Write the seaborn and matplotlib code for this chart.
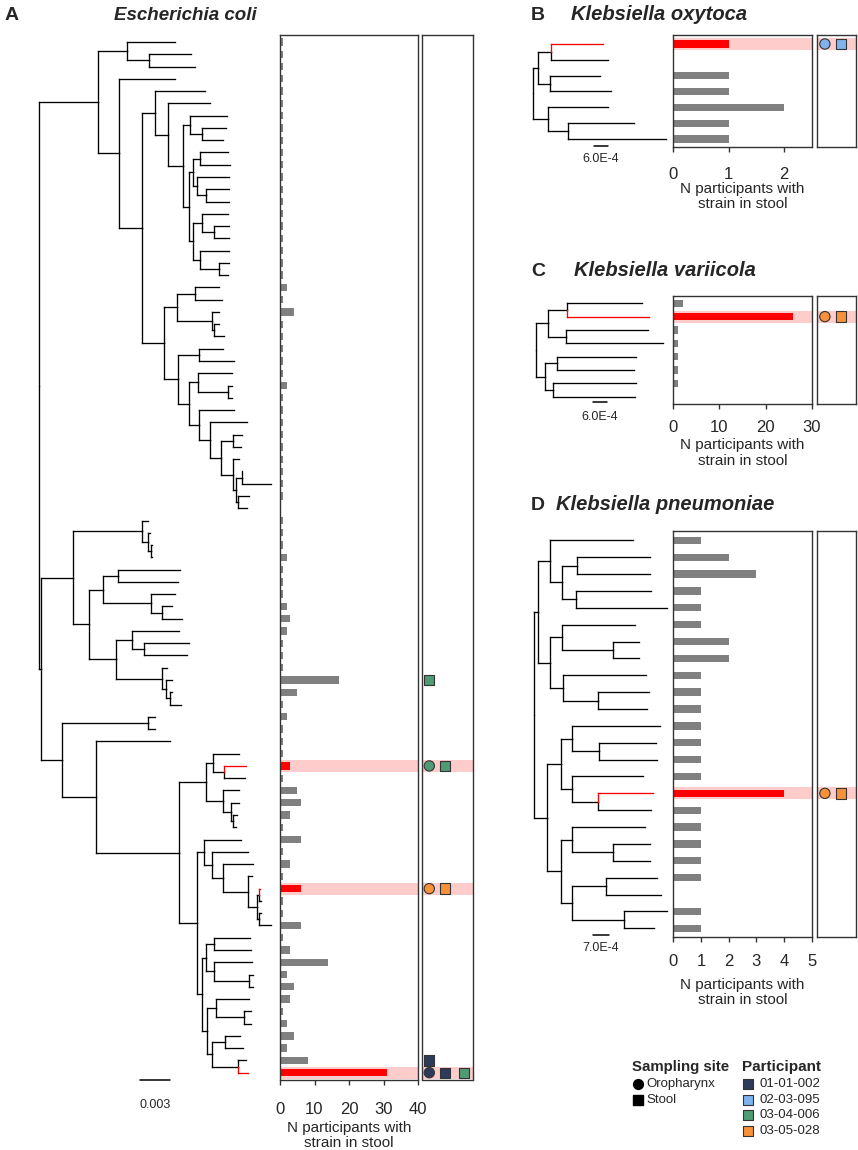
import matplotlib
matplotlib.use("Agg")
import matplotlib.pyplot as plt
import numpy as np
import pandas as pd
import seaborn as sns
from matplotlib.collections import LineCollection

W, H = 858, 1150

# ---------------- data ----------------
# E. coli tree (branch lengths in 1e-4 subst/site), built from clades
EC_N570 = "(E6:36.7,(E7:24.3,E8:21.6):11.7):7.3"
EC_N578 = "((E9:28.3,E10:30):7.3,(E11:32.6,(E12:23.6,E13:23.6):9.0):4.0):3.4"
EC_N578B = "((E14:26,(E15:15,E16:15):12.6):9.0,(E17:29.3,(E18:10.3,E19:9.3):19):7.3):3.4"
EC_N466 = "(E4:49.7,(E5:41.7,(" + EC_N570 + ",(" + EC_N578 + "," + EC_N578B + "):6.6):14.4):13.0):13.0"
EC_N530 = "((E20:24,E21:26.7):18.3,(E22:7.3,(E23:4.7,E24:9.7):2.6):35):12.4"
EC_N595 = "(E27:33.4,(E28:3.4,E29:3.4):30):9.3"
EC_N597 = ("(E30:35,(E31:37.3,((E32:8.4,E33:7.4):12.6,(E34:6.6,((E35:0.6,E36:29):5.7,"
           "(E37:11,E38:9):2.3):3.3):12):10.7):11):10")
EC_N533 = "((E25:23.4,E26:34.7):21.6,(" + EC_N595 + "," + EC_N597 + "):11.3):13.4"
EC_N493 = "(" + EC_N530 + "," + EC_N533 + "):22.0"
EC_A = "((E0:48.3,(E1:42,E2:46):22.3):28.4,(E3:55.7,(" + EC_N466 + "," + EC_N493 + "):23.0):21.0):59.0"
EC_N425 = "(E39:6.6,(E40:2.3,(E41:1.3,E42:1.0):3):6):69"
EC_N310 = "((E43:61.7,E44:60):15,(E45:24.3,(E46:10,E47:19.7):11.6):47.4):14"
EC_N348 = "((E48:47.6,(E49:45.3,E50:43.3):12.3):15.7,(E51:4.4,(E52:6.3,(E53:1.7,E54:11):4):3.7):46.3):26.7"
EC_C = "(" + EC_N425 + ",(" + EC_N310 + "," + EC_N348 + "):16.6):31.7"
EC_N618 = "((E58:25.4,(E59:21.7,E60:20.7):11):7.3,(E61:16,(E62:8.6,(E63:3.4,E64:2.4):2.6):7.4):17.3):27"
EC_N612 = ("(E65:37,(E66:36.6,(E67:30,(E68:4.6,((E69:0.7,E70:1.4):2.6,(E71:1.4,E72:11.4):2.6):9)"
           ":24.4):11.6):7.7):7.3")
EC_N618C = "((E73:35.7,E74:36.4):8.3,(E75:38,(E76:4,E77:4):35):8.3):4.3"
EC_N620 = "((E78:33.3,(E79:6.7,E80:6.7):28.3):9.3,((E81:15,E82:18):13,(E83:8,E84:10):26):5.3):5"
EC_D = ("((E55:6.7,E56:6.7):86.3,(E57:74.3,(" + EC_N618 + ",(" + EC_N612 + ",(" + EC_N618C + ","
        + EC_N620 + "):5):17.7):83.3):33.7):21")
ECOLI_TREE = "(" + EC_A + ",(" + EC_C + "," + EC_D + "):1.7);"

ECOLI_N = [1, 1, 1, 1, 1, 1, 1, 1, 1, 1, 1, 1, 1, 1, 1, 1, 1, 1, 1, 1,
           2, 1, 4, 1, 1, 1, 1, 1, 2, 1,
           1, 1, 1, 1, 1, 1, 1, 1, 0, 1,
           1, 1, 2, 1, 1, 1, 2, 3, 2, 1,
           1, 1, 17, 5, 1, 2, 1, 1, 1, 3,
           1, 5, 6, 3, 1, 6, 1, 3, 1, 6,
           1, 1, 6, 1, 3, 14, 2, 4, 3, 1,
           2, 4, 2, 8, 31]
ECOLI_MARK_LEAF = ["E52", "E59", "E59", "E69", "E69", "E83", "E84", "E84", "E84"]
ECOLI_MARK_SITE = ["Stool", "Oropharynx", "Stool", "Oropharynx", "Stool", "Stool",
                   "Oropharynx", "Stool", "Stool"]
ECOLI_MARK_PART = ["03-04-006", "03-04-006", "03-04-006", "03-05-028", "03-05-028",
                   "01-01-002", "01-01-002", "01-01-002", "03-04-006"]

# Klebsiella trees (branch lengths in 1e-5 subst/site)
KOXY_TREE = "(((B0:221,B1:242):55,(B2:211.5,B3:256.8):50.8):21.2,(B4:253.8,(B5:277.9,B6:413.3):84.6):64.7);"
KOXY_N = [1, 0, 1, 1, 2, 1, 1]
KOXY_MARK_LEAF = ["B0", "B0"]
KOXY_MARK_SITE = ["Oropharynx", "Stool"]
KOXY_MARK_PART = ["02-03-095", "02-03-095"]

KVAR_TREE = ("(((C0:321.8,C1:350.5):81.5,(C2:354.4,C3:416.1):74.6):52.8,"
             "((C4:337.6,C5:330.3):52.8,(C6:353.5,C7:350.5):35.6):38.6);")
KVAR_N = [2, 26, 1, 1, 1, 1, 1, 0]
KVAR_MARK_LEAF = ["C1", "C1"]
KVAR_MARK_SITE = ["Oropharynx", "Stool"]
KVAR_MARK_PART = ["03-05-028", "03-05-028"]

KPN_TREE = ("(((D0:368.8,((D1:324.2,D2:324.2):66.9,(D3:333.2,D4:404.5):61.1):54.9):53.5,"
            "((D5:326.9,(D6:116,D7:113.3):230.1):52.2,(D8:371.5,(D9:226.1,D10:218.5):158.8):56.6):53.5):17.8,"
            "(((D11:391.1,(D12:252.9,D13:258.7):120.4):51.7,(D14:314,(D15:248,D16:236.4):113.3):51.7):59.8,"
            "((D17:324.2,(D18:163.7,D19:163.7):182.9):51.7,((D20:227.5,D21:246.6):149,"
            "(D22:190.4,D23:135.1):230.6):51.7):59.8):59.3);")
KPN_N = [1, 2, 3, 1, 1, 1, 2, 2, 1, 1, 1, 1, 1, 1, 1, 4, 1, 1, 1, 1, 1, 0, 1, 1]
KPN_MARK_LEAF = ["D15", "D15"]
KPN_MARK_SITE = ["Oropharynx", "Stool"]
KPN_MARK_PART = ["03-05-028", "03-05-028"]

PARTICIPANTS = ["01-01-002", "02-03-095", "03-04-006", "03-05-028"]
PART_COLORS = ["#2E3A5A", "#80B2EE", "#4F9B74", "#F7923A"]
SITES = ["Oropharynx", "Stool"]

# ---------------- style ----------------
RED = "#FF0000"
GRAY = "#808080"
PINK = "#FFCCCC"
EDGE = "#333333"
BAR_PX = 7.3
BAND_PX = 12.0
SLOT_PX = [7.6, 23.5, 42.6]

sns.set_style("ticks")
plt.rcParams["font.family"] = ["Liberation Sans", "DejaVu Sans"]


def parse_newick(s):
    s = s.strip().rstrip(";")
    pos = 0

    def node():
        nonlocal pos
        kids = []
        if s[pos] == "(":
            pos += 1
            while True:
                kids.append(node())
                if s[pos] == ",":
                    pos += 1
                    continue
                pos += 1
                break
        start = pos
        while pos < len(s) and s[pos] not in ",):":
            pos += 1
        name = s[start:pos]
        length = 0.0
        if pos < len(s) and s[pos] == ":":
            pos += 1
            start = pos
            while pos < len(s) and s[pos] not in ",)":
                pos += 1
            length = float(s[start:pos])
        return {"name": name, "len": length, "kids": kids}

    return node()


def layout(tree, unit):
    leaves = []

    def walk(n, depth):
        n["x"] = depth + n["len"] * unit
        for k in n["kids"]:
            walk(k, n["x"])
        if not n["kids"]:
            n["y"] = len(leaves)
            leaves.append(n["name"])
        else:
            n["y"] = (n["kids"][0]["y"] + n["kids"][-1]["y"]) / 2

    walk(tree, 0.0)
    return leaves


def edges(n, red, out):
    for k in n["kids"]:
        c = RED if k["name"] in red else "black"
        out.append(([(n["x"], n["y"]), (n["x"], k["y"])], c))
        out.append(([(n["x"], k["y"]), (k["x"], k["y"])], c))
        edges(k, red, out)
    return out


def px_rect(x0, y0, x1, y1):
    return [x0 / W, 1 - y1 / H, (x1 - x0) / W, (y1 - y0) / H]


fig = plt.figure(figsize=(W / 100, H / 100), dpi=100)
fig.patch.set_facecolor("white")


def draw_panel(p, tree_str, counts, mleaf, msite, mpart):
    tree = parse_newick(tree_str)
    leaves = layout(tree, p["unit"])
    row = {l: i for i, l in enumerate(leaves)}
    marks = pd.DataFrame({"leaf": mleaf, "site": msite, "participant": mpart})
    red = set(marks.loc[marks["site"] == "Oropharynx", "leaf"])
    step = p["step"]
    ylim = ((p["bottom"] - p["row0"]) / step, (p["top"] - p["row0"]) / step)

    # tree
    axt = fig.add_axes(px_rect(p["x_tree"], p["top"], p["x_bar"], p["bottom"]))
    axt.set_axis_off()
    segs = edges(tree, red, [])
    for col, z in (("black", 2), (RED, 3)):
        lc = LineCollection([s for s, c in segs if c == col], colors=col,
                            linewidths=0.95, capstyle="projecting", zorder=z)
        axt.add_collection(lc)
    axt.set_xlim((p["x_tree"] - p["root"]) * p["perpx"], (p["x_bar"] - p["root"]) * p["perpx"])
    axt.set_ylim(*ylim)
    sx = (p["scale_x"] - p["root"]) * p["perpx"]
    sy = (p["scale_y"] - p["row0"]) / step
    axt.plot([sx, sx + p["scale"]], [sy, sy], color="black", lw=1.1, clip_on=False)
    axt.text(sx + p["scale"] / 2, (p["scale_lab_y"] - p["row0"]) / step, p["scale_lab"],
             ha="center", va="center", fontsize=9, clip_on=False)

    # bars
    axb = fig.add_axes(px_rect(p["x_bar"], p["top"], p["x_bar_end"], p["bottom"]))
    df = pd.DataFrame({"leaf": leaves, "n": [counts[int(l[1:])] for l in leaves]})
    pal = {l: (RED if l in red else GRAY) for l in leaves}
    sns.barplot(data=df, x="n", y="leaf", hue="leaf", order=leaves, hue_order=leaves,
                palette=pal, orient="h", width=BAR_PX / step, saturation=1,
                legend=False, linewidth=0, ax=axb)
    for l in red:
        axb.axhspan(row[l] - BAND_PX / step / 2, row[l] + BAND_PX / step / 2,
                    color=PINK, lw=0, zorder=0)
    axb.set_xlim(0, p["xmax"])
    axb.set_ylim(*ylim)
    axb.set_xticks(p["ticks"])
    axb.set_yticks([])
    axb.set_ylabel("")
    axb.set_xlabel("N participants with\nstrain in stool", fontsize=11, labelpad=p["lpad"],
                   linespacing=1.1)
    axb.tick_params(axis="x", length=3.6, width=1, color=EDGE, labelsize=12, pad=p["tpad"])
    for sp in axb.spines.values():
        sp.set_visible(True)
        sp.set_color(EDGE)
        sp.set_linewidth(1.0)

    # markers
    axm = fig.add_axes(px_rect(p["x_mark"], p["top"], p["x_mark_end"], p["bottom"]))
    for l in red:
        axm.axhspan(row[l] - BAND_PX / step / 2, row[l] + BAND_PX / step / 2,
                    color=PINK, lw=0, zorder=0)
    marks["row"] = marks["leaf"].map(row)
    marks["slot"] = marks.groupby("leaf").cumcount().map(lambda i: SLOT_PX[i])
    sns.scatterplot(data=marks, x="slot", y="row", hue="participant", style="site",
                    hue_order=PARTICIPANTS, palette=dict(zip(PARTICIPANTS, PART_COLORS)),
                    style_order=SITES, markers={"Oropharynx": "o", "Stool": "s"},
                    s=55, edgecolor=EDGE, linewidth=0.8, legend=False, zorder=3, ax=axm)
    axm.set_xlim(0, p["x_mark_end"] - p["x_mark"])
    axm.set_ylim(*ylim)
    axm.set_xticks([])
    axm.set_yticks([])
    axm.set_xlabel("")
    axm.set_ylabel("")
    for sp in axm.spines.values():
        sp.set_visible(True)
        sp.set_color(EDGE)
        sp.set_linewidth(1.0)


KX = dict(x_tree=526, x_bar=673.3, x_bar_end=811.7, x_mark=817.3, x_mark_end=856, unit=1e-5)

draw_panel(dict(x_tree=0, x_bar=280, x_bar_end=418, x_mark=421.7, x_mark_end=473.3,
                unit=1e-4, root=39.3, perpx=1e-4, top=35, bottom=1079.5, row0=42, step=12.27,
                xmax=40, ticks=[0, 10, 20, 30, 40], scale=0.003, scale_lab="0.003",
                scale_x=140, scale_y=1080, scale_lab_y=1105, tpad=12.5, lpad=3),
           ECOLI_TREE, ECOLI_N, ECOLI_MARK_LEAF, ECOLI_MARK_SITE, ECOLI_MARK_PART)
draw_panel(dict(KX, root=533, perpx=4.23e-5, top=35, bottom=147.3, row0=44, step=15.83,
                xmax=2.5, ticks=[0, 1, 2], scale=6e-4, scale_lab="6.0E-4",
                scale_x=594, scale_y=146, scale_lab_y=159.3, tpad=10.3, lpad=0.3),
           KOXY_TREE, KOXY_N, KOXY_MARK_LEAF, KOXY_MARK_SITE, KOXY_MARK_PART)
draw_panel(dict(KX, root=536, perpx=4.29e-5, top=296, bottom=404, row0=303.3, step=13.33,
                xmax=30, ticks=[0, 10, 20, 30], scale=6e-4, scale_lab="6.0E-4",
                scale_x=592.7, scale_y=401.7, scale_lab_y=416.7, tpad=7.7, lpad=2.7),
           KVAR_TREE, KVAR_N, KVAR_MARK_LEAF, KVAR_MARK_SITE, KVAR_MARK_PART)
draw_panel(dict(KX, root=534, perpx=4.46e-5, top=531, bottom=936.7, row0=540.3, step=16.87,
                xmax=5, ticks=[0, 1, 2, 3, 4, 5], scale=7e-4, scale_lab="7.0E-4",
                scale_x=593.3, scale_y=935, scale_lab_y=948.3, tpad=9.2, lpad=5.8),
           KPN_TREE, KPN_N, KPN_MARK_LEAF, KPN_MARK_SITE, KPN_MARK_PART)

# titles
for letter, lx, title, tx, ty, fs in [("A", 12, "Escherichia coli", 185, 15, 13.5),
                                      ("B", 538, "Klebsiella oxytoca", 659, 15, 14.5),
                                      ("C", 538, "Klebsiella variicola", 665, 271, 14.5),
                                      ("D", 538, "Klebsiella pneumoniae", 665, 505, 14.5)]:
    fig.text(lx / W, 1 - ty / H, letter, fontsize=14, fontweight="bold", ha="center", va="center")
    fig.text(tx / W, 1 - ty / H, title, fontsize=fs, fontweight="bold", fontstyle="italic",
             ha="center", va="center")

# legend
axl = fig.add_axes(px_rect(620, 1050, 858, 1145))
axl.set_axis_off()
axl.set_xlim(620, 858)
axl.set_ylim(1145, 1050)
axl.text(632, 1067, "Sampling site", fontsize=10.8, fontweight="bold", va="center")
for i, (site, mk) in enumerate(zip(SITES, ["o", "s"])):
    axl.scatter([638], [1084 + 16 * i], marker=mk, s=50, color="black")
    axl.text(646, 1084 + 16 * i, site, fontsize=9.5, va="center")
axl.text(741.7, 1067, "Participant", fontsize=11, fontweight="bold", va="center")
for i, (part, col) in enumerate(zip(PARTICIPANTS, PART_COLORS)):
    yy = 1084 + 15.7 * i
    axl.scatter([747.7], [yy], marker="s", s=55, color=col, edgecolor=EDGE, linewidth=0.8)
    axl.text(760, yy, part, fontsize=9.5, va="center")

fig.savefig("out.png", dpi=100, facecolor="white")
